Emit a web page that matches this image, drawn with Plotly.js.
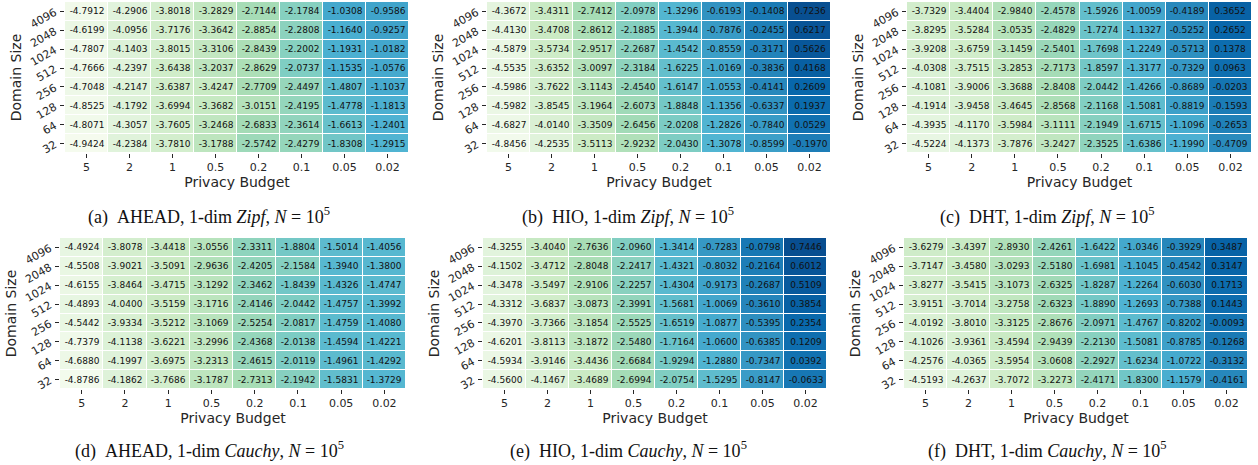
<!DOCTYPE html>
<html>
<head>
<meta charset="utf-8">
<script src="https://cdn.plot.ly/plotly-3.0.1.min.js"></script>
<style>html,body{margin:0;padding:0;background:#fff;}#chart{width:1258px;height:465px;}</style>
</head>
<body>
<div id="chart"></div>
<script>
// ---- data (rows listed top to bottom: 4096 ... 32) ----
const privacyBudget = ['5','2','1','0.5','0.2','0.1','0.05','0.02'];
const domainSize = ['4096','2048','1024','512','256','128','64','32'];

const aheadZipf = [
  [-4.7912,-4.2906,-3.8018,-3.2829,-2.7144,-2.1784,-1.0308,-0.9586],
  [-4.6199,-4.0956,-3.7176,-3.3642,-2.8854,-2.2808,-1.1640,-0.9257],
  [-4.7807,-4.1403,-3.8015,-3.3106,-2.8439,-2.2002,-1.1931,-1.0182],
  [-4.7666,-4.2397,-3.6438,-3.2037,-2.8629,-2.0737,-1.1535,-1.0576],
  [-4.7048,-4.2147,-3.6387,-3.4247,-2.7709,-2.4497,-1.4807,-1.1037],
  [-4.8525,-4.1792,-3.6994,-3.3682,-3.0151,-2.4195,-1.4778,-1.1813],
  [-4.8071,-4.3057,-3.7605,-3.2468,-2.6833,-2.3614,-1.6613,-1.2401],
  [-4.9424,-4.2384,-3.7810,-3.1788,-2.5742,-2.4279,-1.8308,-1.2915]
];
const hioZipf = [
  [-4.3672,-3.4311,-2.7412,-2.0978,-1.3296,-0.6193,-0.1408,0.7236],
  [-4.4130,-3.4708,-2.8612,-2.1885,-1.3944,-0.7876,-0.2455,0.6217],
  [-4.5879,-3.5734,-2.9517,-2.2687,-1.4542,-0.8559,-0.3171,0.5626],
  [-4.5535,-3.6352,-3.0097,-2.3184,-1.6225,-1.0169,-0.3836,0.4168],
  [-4.5986,-3.7622,-3.1143,-2.4540,-1.6147,-1.0553,-0.4141,0.2609],
  [-4.5982,-3.8545,-3.1964,-2.6073,-1.8848,-1.1356,-0.6337,0.1937],
  [-4.6827,-4.0140,-3.3509,-2.6456,-2.0208,-1.2826,-0.7840,0.0529],
  [-4.8456,-4.2535,-3.5113,-2.9232,-2.0430,-1.3078,-0.8599,-0.1970]
];
const dhtZipf = [
  [-3.7329,-3.4404,-2.9840,-2.4578,-1.5926,-1.0059,-0.4189,0.3652],
  [-3.8295,-3.5284,-3.0535,-2.4829,-1.7274,-1.1327,-0.5252,0.2652],
  [-3.9208,-3.6759,-3.1459,-2.5401,-1.7698,-1.2249,-0.5713,0.1378],
  [-4.0308,-3.7515,-3.2853,-2.7173,-1.8597,-1.3177,-0.7329,0.0963],
  [-4.1081,-3.9006,-3.3688,-2.8408,-2.0442,-1.4266,-0.8689,-0.0203],
  [-4.1914,-3.9458,-3.4645,-2.8568,-2.1168,-1.5081,-0.8819,-0.1593],
  [-4.3935,-4.1170,-3.5984,-3.1111,-2.1949,-1.6715,-1.1096,-0.2653],
  [-4.5224,-4.1373,-3.7876,-3.2427,-2.3525,-1.6386,-1.1990,-0.4709]
];
const aheadCauchy = [
  [-4.4924,-3.8078,-3.4418,-3.0556,-2.3311,-1.8804,-1.5014,-1.4056],
  [-4.5508,-3.9021,-3.5091,-2.9636,-2.4205,-2.1584,-1.3940,-1.3800],
  [-4.6155,-3.8464,-3.4715,-3.1292,-2.3462,-1.8439,-1.4326,-1.4747],
  [-4.4893,-4.0400,-3.5159,-3.1716,-2.4146,-2.0442,-1.4757,-1.3992],
  [-4.5442,-3.9334,-3.5212,-3.1069,-2.5254,-2.0817,-1.4759,-1.4080],
  [-4.7379,-4.1138,-3.6221,-3.2996,-2.4368,-2.0138,-1.4594,-1.4221],
  [-4.6880,-4.1997,-3.6975,-3.2313,-2.4615,-2.0119,-1.4961,-1.4292],
  [-4.8786,-4.1862,-3.7686,-3.1787,-2.7313,-2.1942,-1.5831,-1.3729]
];
const hioCauchy = [
  [-4.3255,-3.4040,-2.7636,-2.0960,-1.3414,-0.7283,-0.0798,0.7446],
  [-4.1502,-3.4712,-2.8048,-2.2417,-1.4321,-0.8032,-0.2164,0.6012],
  [-4.3478,-3.5497,-2.9106,-2.2257,-1.4304,-0.9173,-0.2687,0.5109],
  [-4.3312,-3.6837,-3.0873,-2.3991,-1.5681,-1.0069,-0.3610,0.3854],
  [-4.3970,-3.7366,-3.1854,-2.5525,-1.6519,-1.0877,-0.5395,0.2354],
  [-4.6201,-3.8113,-3.1872,-2.5480,-1.7164,-1.0600,-0.6385,0.1209],
  [-4.5934,-3.9146,-3.4436,-2.6684,-1.9294,-1.2880,-0.7347,0.0392],
  [-4.5600,-4.1467,-3.4689,-2.6994,-2.0754,-1.5295,-0.8147,-0.0633]
];
const dhtCauchy = [
  [-3.6279,-3.4397,-2.8930,-2.4261,-1.6422,-1.0346,-0.3929,0.3487],
  [-3.7147,-3.4580,-3.0293,-2.5180,-1.6981,-1.1045,-0.4542,0.3147],
  [-3.8277,-3.5415,-3.1073,-2.6325,-1.8287,-1.2264,-0.6030,0.1713],
  [-3.9151,-3.7014,-3.2758,-2.6323,-1.8890,-1.2693,-0.7388,0.1443],
  [-4.0192,-3.8010,-3.3125,-2.8676,-2.0971,-1.4767,-0.8202,-0.0093],
  [-4.1026,-3.9361,-3.4594,-2.9439,-2.2130,-1.5081,-0.8785,-0.1268],
  [-4.2576,-4.0365,-3.5954,-3.0608,-2.2927,-1.6234,-1.0722,-0.3132],
  [-4.5193,-4.2637,-3.7072,-3.2273,-2.4171,-1.8300,-1.1579,-0.4161]
];

const panelLabels = ['(a)','(b)','(c)','(d)','(e)','(f)'];
const methods = ['AHEAD','HIO','DHT','AHEAD','HIO','DHT'];
const distributions = ['Zipf','Zipf','Zipf','Cauchy','Cauchy','Cauchy'];

// ---- layout constants ----
const W = 1258, H = 465;
const boxes = [
  {x0:65, x1:409, y0:2, y1:153},
  {x0:487, x1:831, y0:2, y1:153},
  {x0:907, x1:1252, y0:2, y1:153},
  {x0:60, x1:406, y0:238, y1:389},
  {x0:483, x1:827, y0:238, y1:389},
  {x0:904, x1:1248, y0:238, y1:389}
];
const captionCx = [209, 628, 1047, 209, 628, 1047];
const captionCy = [216, 216, 216, 450, 450, 450];

const gnbu = [
  [0,'#f7fcf0'],[0.125,'#e0f3db'],[0.25,'#ccebc5'],[0.375,'#a8ddb5'],
  [0.5,'#7bccc4'],[0.625,'#4eb3d3'],[0.75,'#2b8cbe'],[0.875,'#0868ac'],[1,'#084081']
];
const FONT = 'DejaVu Sans, Verdana, sans-serif';
const allData = [aheadZipf, hioZipf, dhtZipf, aheadCauchy, hioCauchy, dhtCauchy];

const traces = [];
const layout = {
  width: W, height: H,
  margin: {l:0, r:0, t:0, b:0},
  paper_bgcolor: '#ffffff', plot_bgcolor: '#ffffff',
  showlegend: false,
  font: {family: FONT, color: '#262626'},
  annotations: []
};

allData.forEach((z, i) => {
  const n = i + 1;
  const xa = 'x' + (n === 1 ? '' : n), ya = 'y' + (n === 1 ? '' : n);
  const xk = 'xaxis' + (n === 1 ? '' : n), yk = 'yaxis' + (n === 1 ? '' : n);
  traces.push({
    type: 'heatmap',
    x: privacyBudget, y: domainSize, z: z,
    text: z.map(r => r.map(v => v.toFixed(4))),
    texttemplate: '%{text}',
    textfont: {family: FONT, size: 9, color: '#111111'},
    colorscale: gnbu, zmin: -5, zmax: 1,
    showscale: false, xgap: 1, ygap: 1,
    xaxis: xa, yaxis: ya, hoverinfo: 'skip'
  });
  const b = boxes[i];
  layout[xk] = {
    domain: [b.x0 / W, b.x1 / W], anchor: ya, type: 'category',
    showgrid: false, zeroline: false, showline: false,
    ticks: 'outside', ticklen: 4, tickwidth: 1, tickcolor: '#262626',
    tickfont: {family: FONT, size: 11, color: '#262626'},
    title: {text: 'Privacy Budget', font: {family: FONT, size: 14, color: '#262626'}, standoff: 3},
    fixedrange: true
  };
  layout[yk] = {
    domain: [1 - b.y1 / H, 1 - b.y0 / H], anchor: xa, type: 'category',
    autorange: 'reversed',
    showgrid: false, zeroline: false, showline: false,
    ticks: 'outside', ticklen: 4, tickwidth: 1, tickcolor: '#262626',
    tickangle: -30, ticklabelstandoff: 3,
    tickfont: {family: FONT, size: 11, color: '#262626'},
    title: {text: 'Domain Size', font: {family: FONT, size: 14, color: '#262626'}, standoff: 3},
    fixedrange: true
  };
  layout.annotations.push({
    xref: 'paper', yref: 'paper',
    x: captionCx[i] / W, y: 1 - captionCy[i] / H,
    xanchor: 'center', yanchor: 'middle', showarrow: false,
    text: panelLabels[i] + '\u00a0\u00a0' + methods[i] + ', 1-dim <i>' + distributions[i] + '</i>, <i>N</i> = 10<sup>5</sup>',
    font: {family: 'Liberation Serif, Times New Roman, serif', size: 18, color: '#111111'}
  });
});

Plotly.newPlot('chart', traces, layout, {staticPlot: true, displayModeBar: false});
</script>
</body>
</html>
